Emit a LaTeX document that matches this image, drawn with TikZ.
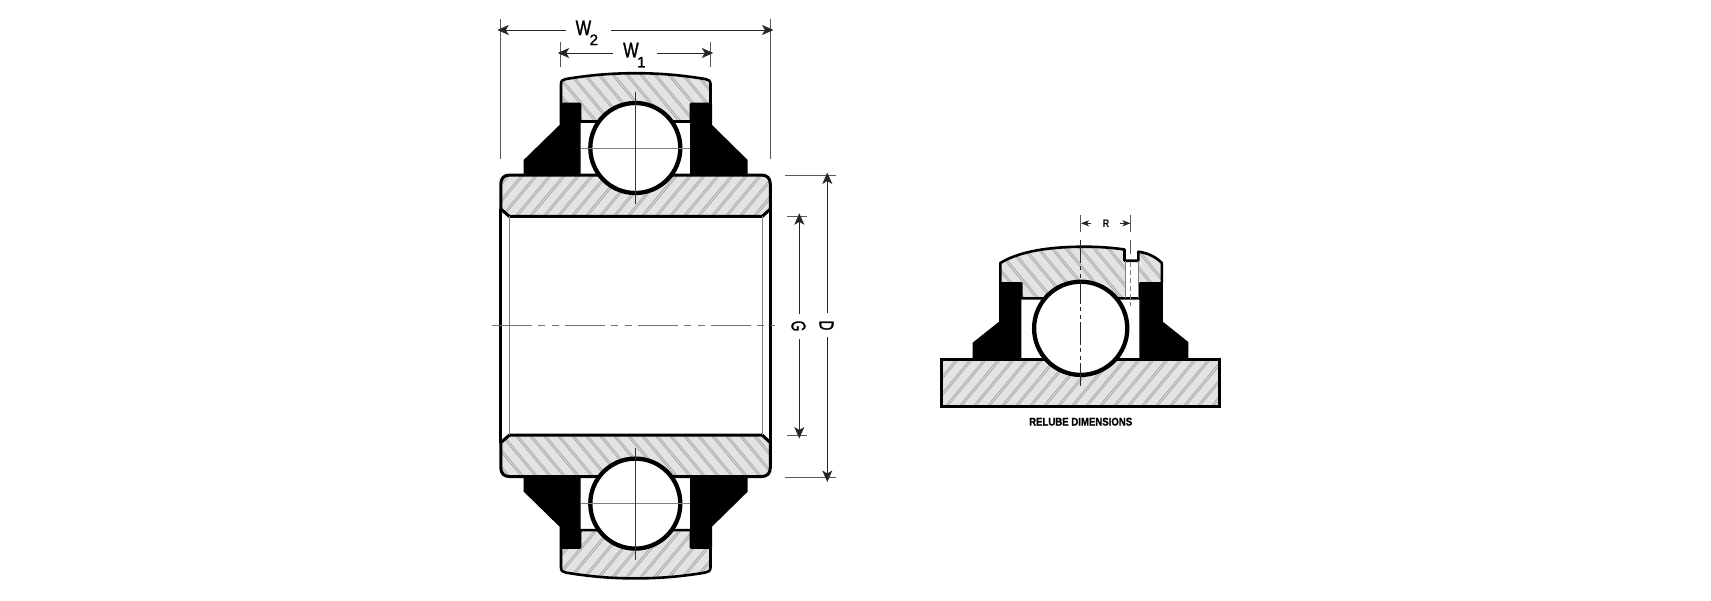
\documentclass[tikz,border=0pt]{standalone}
\usepackage{graphicx}
\usepackage{fontspec}
\setmainfont{Liberation Sans}
\newfontfamily\dimfont[FakeBold=1.6]{Liberation Sans}
\newfontfamily\capfont[FakeBold=1.2]{Liberation Sans Bold}
\usetikzlibrary{arrows.meta}
\definecolor{ringfill}{HTML}{E3E3E3}
\definecolor{hatchc}{HTML}{A6A6A6}
\tikzset{
  ringedge/.style={draw=black,line width=2.6pt,line join=round},
  hatchline/.style={draw=hatchc,line width=0.8pt},
  sealshape/.style={fill=black,draw=none},
  ballshape/.style={draw=black,fill=white,line width=4.3pt},
  thinaxis/.style={draw=black!80,line width=0.9pt},
  thingray/.style={draw=black!50,line width=0.9pt},
  extline/.style={draw=black!65,line width=0.9pt},
  dimline/.style={draw=black!85,line width=0.9pt},
  dimarrow/.style={dimline,-{Stealth[length=11.5pt,width=10pt,inset=3pt]}},
  smallarrow/.style={dimline,-{Stealth[length=8pt,width=6pt,inset=2pt]}},
  bigtxt/.style={inner sep=0pt,font=\dimfont\fontsize{21}{21}\selectfont},
  rottxt/.style={inner sep=0pt,rotate=-90,font=\dimfont\fontsize{20}{20}\selectfont},
  centerdash/.style={draw=black!55,line width=1pt,dash pattern=on 40pt off 6pt on 7pt off 7pt on 7pt off 6pt},
  centerdashv/.style={draw=black!85,line width=1pt,dash pattern=on 23pt off 3pt on 4pt off 4pt on 4pt off 3pt,dash phase=38pt}
}
% "\" hatching: start x, end x, y top, y bottom
\newcommand\hatchback[4]{%
  \pgfmathsetmacro\hstep{#1+14}%
  \foreach \hx in {#1,\hstep,...,#2}{%
    \draw[hatchline] (\hx,#3) -- (\hx+#4/1.2-#3/1.2,#4);
    \draw[hatchline] (\hx+2.4,#3) -- (\hx+2.4+#4/1.2-#3/1.2,#4);
  }}
% "/" hatching
\newcommand\hatchfwd[4]{%
  \pgfmathsetmacro\hstep{#1+14}%
  \foreach \hx in {#1,\hstep,...,#2}{%
    \draw[hatchline] (\hx,#4) -- (\hx+#4/1.2-#3/1.2,#3);
    \draw[hatchline] (\hx+2.4,#4) -- (\hx+2.4+#4/1.2-#3/1.2,#3);
  }}
\newcommand\outerpathL{(580,104) -- (561,104) -- (561,84) .. controls (561,80.5) and (563,79.5) .. (566,79) .. controls (590,75) and (612,73.2) .. (635.5,73.2) .. controls (659,73.2) and (681,75) .. (705,79) .. controls (708,79.5) and (710.5,80.5) .. (710.5,84) -- (710.5,104) -- (691,104) -- (691,121.5) -- (580,121.5) -- cycle}
\newcommand\innerpathL{(500.8,209) -- (500.8,184) .. controls (500.8,178) and (504,175) .. (510,175) -- (761,175) .. controls (767,175) and (770.3,178) .. (770.3,184) -- (770.3,209) -- (762.3,216.4) -- (509.3,216.4) -- cycle}
\newcommand\halfview{%
  \fill[ringfill] \outerpathL;
  \begin{scope}\clip \outerpathL;\hatchback{510}{720}{70}{125}\end{scope}
  \draw[ringedge] \outerpathL;
  \fill[ringfill] \innerpathL;
  \begin{scope}\clip \innerpathL;\hatchfwd{470}{780}{172}{220}\end{scope}
  \draw[ringedge,line width=3pt] \innerpathL;
  \fill[sealshape] (580.7,104) -- (559.5,104) -- (559.5,125) -- (523.7,160) -- (523.7,175) -- (580.7,175) -- cycle;
  \fill[sealshape] (690,104) -- (712,104) -- (712,125) -- (747.7,160) -- (747.7,175) -- (690,175) -- cycle;
  \draw[ballshape] (635.3,148) circle[radius=45pt];
  \draw[thingray] (580.7,148) -- (690,148);
  \draw[thinaxis] (635.3,91.7) -- (635.3,204);
}
\begin{document}
\begin{tikzpicture}[x=1pt,y=-1pt]
\useasboundingbox (0,0) rectangle (1711,600);
% left view: bearing
\halfview
\begin{scope}[cm={1,0,0,-1,(0,651.6)}]
\halfview
\end{scope}
\draw[draw=black,line width=3pt] (500.8,209) -- (500.8,442.6);
\draw[draw=black,line width=3pt] (770.3,209) -- (770.3,442.6);
\draw[thingray] (509.3,216.4) -- (509.3,435.2);
\draw[thingray] (762.3,216.4) -- (762.3,435.2);
\coordinate (cl) at (491.5,325.7);
\coordinate (cr) at (775,325.7);
\draw[centerdash] (cl) -- (cr);
% W2
\coordinate (w2el) at (500.3,19); \coordinate (w2fl) at (500.3,159);
\coordinate (w2er) at (770.7,19); \coordinate (w2fr) at (770.7,159);
\draw[extline] (w2el) -- (w2fl);
\draw[extline] (w2er) -- (w2fr);
\coordinate (w2a) at (566,30); \coordinate (w2b) at (611,30);
\coordinate (w2tl) at (497.3,30); \coordinate (w2tr) at (773.5,30);
\draw[dimarrow] (w2a) -- (w2tl);
\draw[dimarrow] (w2b) -- (w2tr);
\node[bigtxt,anchor=base west] (w2lab) at (575.5,35) {\scalebox{.78}[1]{W}\kern-1.5pt\raisebox{-10pt}{\fontsize{15}{15}\selectfont 2}};
% W1
\coordinate (w1el) at (560.3,42); \coordinate (w1fl) at (560.3,67);
\coordinate (w1er) at (710.7,42); \coordinate (w1fr) at (710.7,67);
\draw[extline] (w1el) -- (w1fl);
\draw[extline] (w1er) -- (w1fr);
\coordinate (w1a) at (613,53); \coordinate (w1b) at (657,53);
\coordinate (w1tl) at (557.7,53); \coordinate (w1tr) at (713.3,53);
\draw[dimarrow] (w1a) -- (w1tl);
\draw[dimarrow] (w1b) -- (w1tr);
\node[bigtxt,anchor=base west] (w1lab) at (623,57.3) {\scalebox{.78}[1]{W}\kern-1.5pt\raisebox{-10pt}{\fontsize{15}{15}\selectfont 1}};
% D
\coordinate (dea) at (785,175); \coordinate (deb) at (835.7,175);
\coordinate (dec) at (785,477.3); \coordinate (ded) at (835.7,477.3);
\draw[extline] (dea) -- (deb);
\draw[extline] (dec) -- (ded);
\coordinate (da) at (827.3,313); \coordinate (db) at (827.3,337);
\coordinate (dt) at (827.3,172.5); \coordinate (dbt) at (827.3,482);
\draw[dimarrow] (da) -- (dt);
\draw[dimarrow] (db) -- (dbt);
\node[rottxt] (dlab) at (826.5,325.5) {\scalebox{.68}[1]{D}};
% G
\coordinate (gea) at (787,216); \coordinate (geb) at (807,216);
\coordinate (gec) at (787,435.7); \coordinate (ged) at (807,435.7);
\draw[extline] (gea) -- (geb);
\draw[extline] (gec) -- (ged);
\coordinate (ga) at (799.3,314); \coordinate (gb) at (799.3,339);
\coordinate (gt) at (799.3,213.3); \coordinate (gbt) at (799.3,438.5);
\draw[dimarrow] (ga) -- (gt);
\draw[dimarrow] (gb) -- (gbt);
\node[rottxt] (glab) at (798.5,326) {\scalebox{.68}[1]{G}};
% right view: relube detail
\newcommand\relubepath{(1021.3,283.3) -- (1000.3,283.3) -- (1000.3,263) .. controls (1020,251) and (1050,246.7) .. (1085,246.7) .. controls (1100,246.7) and (1115,248) .. (1124.5,249.5) -- (1124.5,260.7) -- (1138.3,260.7) -- (1138.3,251.7) .. controls (1148,253) and (1156,257) .. (1161.8,263) -- (1161.8,283.3) -- (1140,283.3) -- (1140,298.3) -- (1021.3,298.3) -- cycle}
\fill[ringfill] \relubepath;
\begin{scope}\clip \relubepath;\hatchback{960}{1170}{240}{300}\end{scope}
\fill[white] (1125.6,260.7) rectangle (1138.3,298.3);
\draw[ringedge] \relubepath;
\draw[thingray] (1125.6,260.7) -- (1125.6,298.3);
\draw[thingray] (1138.3,260.7) -- (1138.3,298.3);
\draw[thingray,dash pattern=on 5pt off 3pt] (1130.3,262) -- (1130.3,306);
\fill[ringfill] (941.5,359.2) rectangle (1219.5,406.5);
\begin{scope}\clip (941.5,359.2) rectangle (1219.5,406.5);\hatchfwd{900}{1230}{355}{410}\end{scope}
\draw[draw=black,line width=2.8pt] (941.5,359.2) rectangle (1219.5,406.5);
\fill[sealshape] (1021.3,283.3) -- (999,283.3) -- (999,321.7) -- (972.7,342.7) -- (972.7,359.2) -- (1021.3,359.2) -- cycle;
\fill[sealshape] (1139.3,283.3) -- (1162.8,283.3) -- (1162.8,321.7) -- (1188.3,342) -- (1188.3,359.2) -- (1139.3,359.2) -- cycle;
\draw[ballshape] (1080.7,328.3) circle[radius=46.6pt];
\coordinate (rvt) at (1080.5,237); \coordinate (rvb) at (1080.5,387);
\draw[centerdashv] (rvt) -- (rvb);
% R
\coordinate (rea) at (1080.5,215); \coordinate (reb) at (1080.5,232);
\coordinate (rec) at (1130.3,215); \coordinate (red) at (1130.3,232);
\coordinate (rf) at (1130.3,240); \coordinate (rg) at (1130.3,254);
\draw[extline] (rea) -- (reb);
\draw[extline] (rec) -- (red);
\draw[extline] (rf) -- (rg);
\coordinate (ra) at (1091,223.3); \coordinate (rb) at (1120,223.3);
\coordinate (rtl) at (1081,223.3); \coordinate (rtr) at (1130.5,223.3);
\draw[smallarrow] (ra) -- (rtl);
\draw[smallarrow] (rb) -- (rtr);
\node[inner sep=0pt,font=\fontsize{11}{11}\selectfont\bfseries] (rlab) at (1106,223.5) {\scalebox{.8}[1]{R}};
\node[inner sep=0pt] (cap) at (1080.7,421.7) {\resizebox{103pt}{7.8pt}{\bfseries\addfontfeature{FakeBold=1.2} RELUBE DIMENSIONS}};
\end{tikzpicture}
\end{document}
